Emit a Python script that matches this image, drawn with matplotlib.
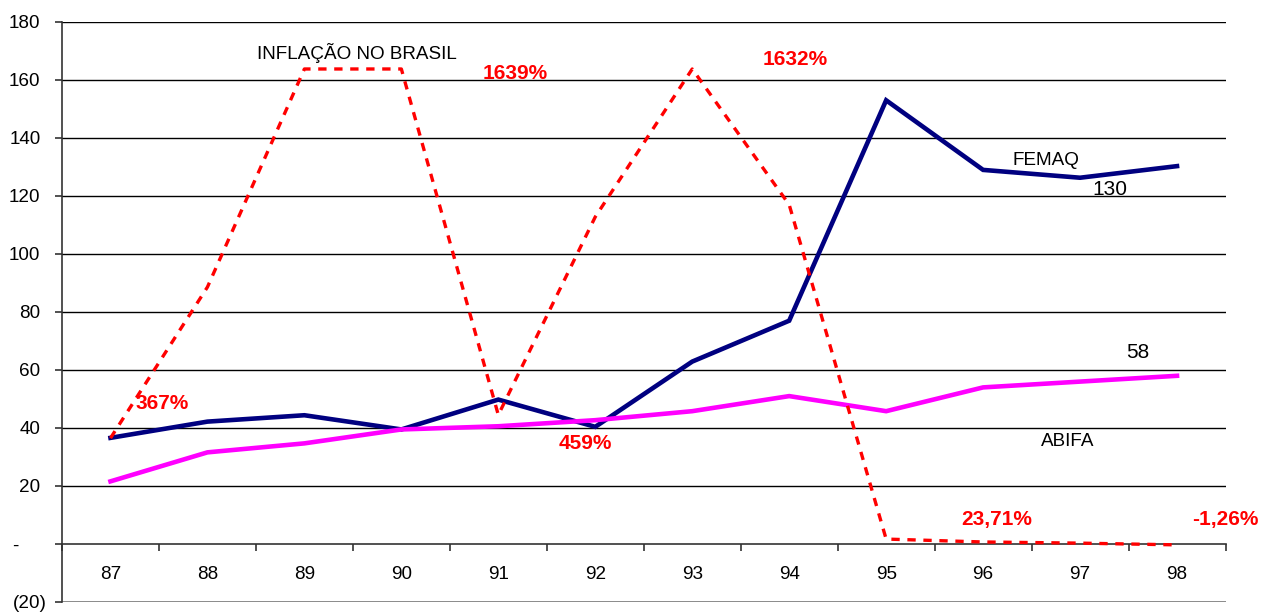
import matplotlib
matplotlib.use("Agg")
import matplotlib.pyplot as plt
import numpy as np

plt.rcParams['font.family'] = ['Liberation Sans', 'DejaVu Sans']

# dados
anos = ['87', '88', '89', '90', '91', '92', '93', '94', '95', '96', '97', '98']
femaq = [36.6, 42.2, 44.4, 39.5, 49.8, 40.4, 62.9, 77.0, 153.0, 129.0, 126.3, 130.3]
abifa = [21.6, 31.6, 34.7, 39.5, 40.6, 42.7, 45.8, 51.0, 45.8, 54.0, 56.0, 58.0]
inflacao = [36.5, 88.6, 163.8, 163.8, 44.5, 112.8, 163.8, 117.0, 1.7, 0.7, 0.3, -0.3]

y_ticks = [-20, 0, 20, 40, 60, 80, 100, 120, 140, 160, 180]
y_labels = ['(20)', '-', '20', '40', '60', '80', '100', '120', '140', '160', '180']

# rotulos das taxas de inflacao
taxas = ['367%', '1639%', '459%', '1632%', '23,71%', '-1,26%']
taxas_pos = [(0.536, 48.3), (4.175, 162.4), (4.897, 34.8), (7.062, 166.9), (9.144, 8.3), (11.495, 8.3)]

fig = plt.figure(figsize=(12.65, 6.13), dpi=100)
ax = fig.add_axes([62 / 1265, 1 - 602 / 613, (1225.5 - 62) / 1265, (602 - 22) / 613])

x = np.arange(len(anos))

# linhas de grade
for v in y_ticks[2:]:
    ax.axhline(v, color='black', lw=1.0, zorder=1)
ax.axhline(-20, color='#808080', lw=2.0, zorder=1)

ax.plot(x, femaq, color='#000080', lw=3.3, zorder=3, solid_joinstyle='miter')
ax.plot(x, abifa, color='#FF00FF', lw=3.3, zorder=4, solid_joinstyle='miter')
ax.plot(x, inflacao, color='#FF0000', lw=2.4, dashes=(2.5, 2.3), zorder=5)

ax.set_xlim(-0.5, len(anos) - 0.5)
ax.set_ylim(-20, 180)

ax.spines['right'].set_visible(False)
ax.spines['top'].set_visible(False)
ax.spines['bottom'].set_position(('data', 0))
ax.spines['bottom'].set_linewidth(1.2)
ax.spines['bottom'].set_color('#333333')
ax.spines['left'].set_linewidth(1.2)
ax.spines['left'].set_color('#333333')

# eixo x: marcas entre categorias, rotulos no centro
ax.set_xticks(np.arange(-0.5, len(anos), 1.0))
ax.set_xticklabels([])
ax.tick_params(axis='x', which='major', direction='out', length=5, width=1.2, color='#333333')
ax.set_xticks(x, minor=True)
ax.set_xticklabels(anos, minor=True)
ax.tick_params(axis='x', which='minor', length=0, pad=15.5, labelsize=13.6)

ax.set_yticks(y_ticks)
ax.set_yticklabels(y_labels)
ax.tick_params(axis='y', direction='out', length=5, width=1.2, color='#333333', labelsize=13.6)
pads = {'(20)': 6.0, '-': 26.5}
for t, lab in zip(ax.yaxis.get_major_ticks(), y_labels):
    t.set_pad(pads.get(lab, 10.5))

ax.text(2.546, 169.3, 'INFLAÇÃO NO BRASIL', fontsize=13.6, ha='center', va='center')
ax.text(9.649, 132.4, 'FEMAQ', fontsize=13.6, ha='center', va='center')
ax.text(9.876, 35.5, 'ABIFA', fontsize=13.6, ha='center', va='center')
ax.text(10.31, 122.1, '130', fontsize=15, ha='center', va='center')
ax.text(10.60, 65.9, '58', fontsize=15, ha='center', va='center')

for lab, (px, py) in zip(taxas, taxas_pos):
    ax.text(px, py, lab, fontsize=15, fontweight='bold', color='#FF0000',
            ha='center', va='center', zorder=6)

fig.savefig('out.png', dpi=100)
